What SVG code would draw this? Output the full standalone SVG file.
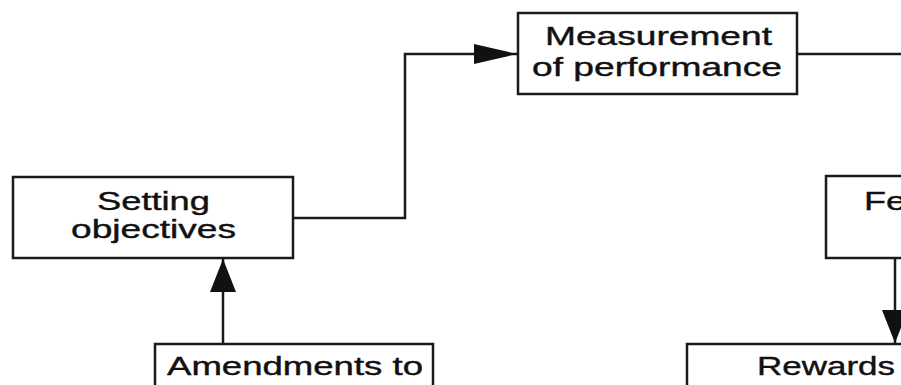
<svg xmlns="http://www.w3.org/2000/svg" width="901" height="385" viewBox="0 0 901 385">
<style>
.box{fill:#fff;stroke:#1a1a1a;stroke-width:2.5}
.lbl{font-family:"Liberation Sans",Arial,sans-serif;font-size:26px;fill:#111;stroke:#111;stroke-width:0.4}
.con{fill:none;stroke:#1a1a1a;stroke-width:2.5}
</style>
<defs>
<marker id="ah" markerUnits="userSpaceOnUse" markerWidth="43" markerHeight="20" refX="43" refY="10" orient="auto"><path d="M0,0 L43,10 L0,20 z" fill="#111"/></marker>
<marker id="av" markerUnits="userSpaceOnUse" markerWidth="33" markerHeight="26" refX="33" refY="13" orient="auto"><path d="M0,0 L33,13 L0,26 z" fill="#111"/></marker>
</defs>
<rect width="901" height="385" fill="#fff"/>
<g id="connectors">
<path class="con" d="M293,218 H405 V54 H517" marker-end="url(#ah)"/>
<path class="con" d="M797,54 H901"/>
<path class="con" d="M895,258 V343" marker-end="url(#av)"/>
<path class="con" d="M223,344 V259" marker-end="url(#av)"/>
</g>
<g id="setting">
<rect class="box" x="13" y="177" width="280" height="81"/>
<text class="lbl" x="97" y="210" textLength="113" lengthAdjust="spacingAndGlyphs">Setting</text>
<text class="lbl" x="71" y="238" textLength="165" lengthAdjust="spacingAndGlyphs">objectives</text>
</g>
<g id="measurement">
<rect class="box" x="518" y="13" width="279" height="81"/>
<text class="lbl" x="545" y="45" textLength="227" lengthAdjust="spacingAndGlyphs">Measurement</text>
<text class="lbl" x="532" y="76" textLength="250" lengthAdjust="spacingAndGlyphs">of performance</text>
</g>
<g id="feedback">
<rect class="box" x="826" y="176" width="279" height="82"/>
<text class="lbl" x="864" y="210" textLength="42" lengthAdjust="spacingAndGlyphs">Fe</text>
</g>
<g id="amendments">
<rect class="box" x="155" y="344" width="278" height="82"/>
<text class="lbl" x="167" y="375" textLength="256" lengthAdjust="spacingAndGlyphs">Amendments to</text>
</g>
<g id="rewards">
<rect class="box" x="687" y="344" width="279" height="82"/>
<text class="lbl" x="757" y="375" textLength="138" lengthAdjust="spacingAndGlyphs">Rewards</text>
</g>
</svg>
